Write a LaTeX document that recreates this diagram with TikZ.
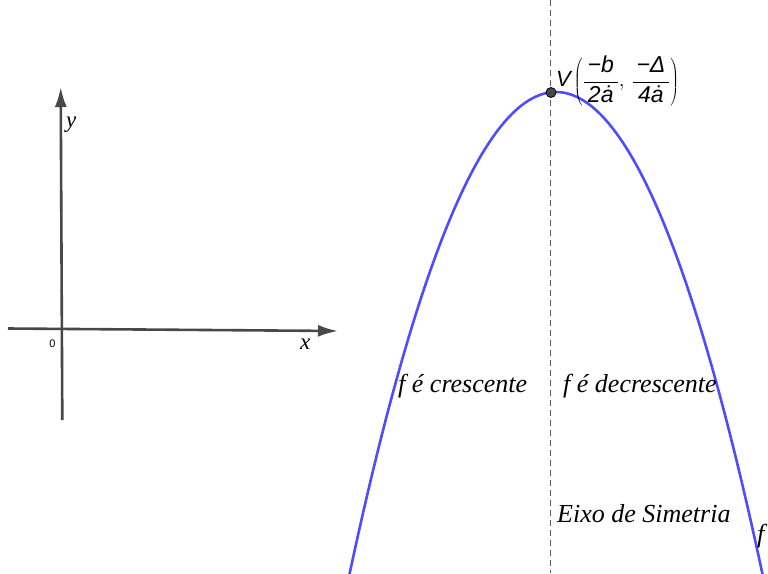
\documentclass[tikz,border=0pt]{standalone}
\usepackage{fontspec}
\usetikzlibrary{arrows.meta}
\setmainfont{Liberation Serif}
\newfontfamily\sfl{Liberation Sans}
\definecolor{curveblue}{RGB}{77,77,255}
\definecolor{axisgray}{RGB}{72,72,72}
\definecolor{dashgray}{RGB}{90,90,90}
\newcommand{\fracnum}[1]{\hbox{\sfl\itshape\fontsize{23}{26}\selectfont\rule[-3pt]{0pt}{0pt}\,#1\,}}
\newcommand{\fracden}[1]{\hbox{\sfl\itshape\fontsize{23}{26}\selectfont\rule{0pt}{19.5pt}#1}}
\begin{document}
\begin{tikzpicture}[x=1pt,y=-1pt,
  axisline/.style={draw=axisgray,line width=2.6pt,-{Latex[length=20pt,width=12pt]}},
  curve/.style={draw=curveblue,line width=2.6pt},
  symaxis/.style={draw=dashgray,line width=1.3pt,dash pattern=on 6pt off 4pt},
  lbl/.style={font=\fontsize{26}{30}\selectfont\itshape,inner sep=0pt,anchor=base west},
  axlbl/.style={font=\fontsize{23}{26}\selectfont\itshape,inner sep=0pt,anchor=base west},
  vdot/.style={circle,fill=axisgray,draw=black,line width=0.8pt,minimum size=10pt,inner sep=0pt}]
\useasboundingbox (0,0) rectangle (768,573);
% axes
\coordinate (xs) at (8,328.5);
\coordinate (xe) at (338,331);
\coordinate (ys) at (62.3,420);
\coordinate (ye) at (60.7,87);
\draw[axisline] (xs) -- (xe);
\draw[axisline] (ys) -- (ye);
\node[axlbl] (xl) at (300,349) {x};
\node[axlbl] (yl) at (66,127) {y};
\node[font=\sfl\fontsize{11}{13}\selectfont,inner sep=0pt] (o) at (52.5,344) {0};
% symmetry axis
\coordinate (at) at (550.5,0);
\coordinate (ab) at (550.5,573);
\draw[symaxis] (at) -- (ab);
% parabola
\begin{scope}
\clip (0,0) rectangle (768,573);
\draw[curve,domain=345:768,samples=120,smooth] plot (\x,{92+0.0113*(\x-556)*(\x-556)});
\end{scope}
% vertex
\node[vdot] (v) at (551,92.5) {};
\node[inner sep=0pt,anchor=west,font=\sfl\fontsize{22}{26}\selectfont] (vl) at (556,81)
 {\itshape V\kern3pt$\left(\displaystyle\frac{\fracnum{−b}}{\fracden{2ȧ}},\,\frac{\fracnum{−Δ}}{\fracden{4ȧ}}\right)$};
% labels
\node[lbl] (cr) at (398,392) {f é crescente};
\node[lbl] (de) at (563,392) {f é decrescente};
\node[lbl] (ei) at (557,522.5) {Eixo de Simetria};
\node[lbl] (f) at (757,542) {f};
\end{tikzpicture}
\end{document}
